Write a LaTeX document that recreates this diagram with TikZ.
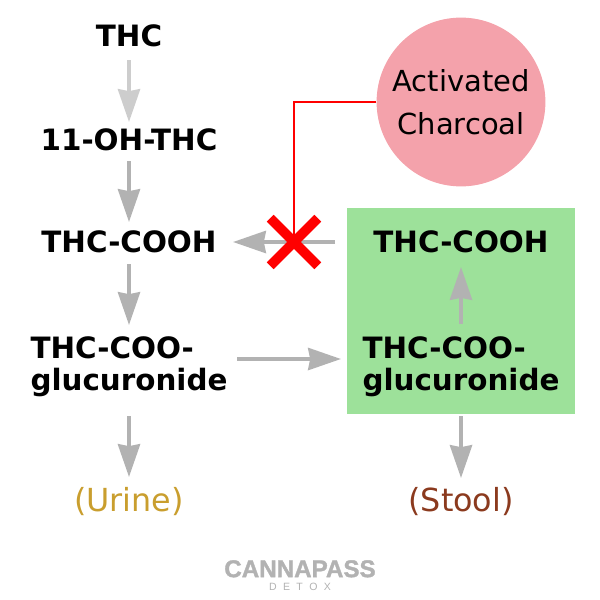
\documentclass[tikz,border=0pt]{standalone}
\usepackage{fontspec}
\setmainfont{DejaVu Sans}
\newfontfamily\logofont[FakeBold=1.5]{Liberation Sans}
\newfontfamily\subfont{Liberation Sans}
\usetikzlibrary{positioning, arrows.meta, shapes.misc}
\definecolor{flowgrey}{HTML}{B2B2B2}
\definecolor{lightgrey}{HTML}{CDCDCD}
\definecolor{boxgreen}{HTML}{9DE19A}
\definecolor{coalpink}{HTML}{F4A2AB}
\definecolor{urinegold}{HTML}{C99E2E}
\definecolor{stoolbrown}{HTML}{8B3A1E}

\begin{document}
\begin{tikzpicture}[on grid,
    metabolite/.style={font=\fontsize{20.9}{23}\selectfont\bfseries, align=left, inner sep=0pt},
    outlet/.style={font=\fontsize{22.6}{26}\selectfont, inner sep=0pt},
    flow/.style={-{Stealth[length=0.82cm, width=0.55cm, inset=0.05cm]}, line width=0.1cm, draw=flowgrey}]
    \useasboundingbox (0,0) rectangle (15,-15);

    % Left column
    \node[metabolite] (thc) at (3.225,-0.9) {THC};
    \node[metabolite] (oh) [below=2.6cm of thc] {11-OH-THC};
    \node[metabolite] (cooh) [below=2.55cm of oh] {THC-COOH};
    \node[metabolite] (gluc) [below=3.125cm of cooh] {THC-COO-\\glucuronide};
    \node[outlet, text=urinegold] (urine) [below=3.375cm of gluc] {(Urine)};

    % Green box and right column
    \node[fill=boxgreen, minimum width=5.7cm, minimum height=5.15cm, inner sep=0pt] (bowel) [below right=1.725cm and 8.3cm of cooh] {};
    \node[metabolite] (cooh2) [right=8.3cm of cooh] {THC-COOH};
    \node[metabolite] (gluc2) [right=8.3cm of gluc] {THC-COO-\\glucuronide};
    \node[outlet, text=stoolbrown] (stool) [right=8.3cm of urine] {(Stool)};

    % Charcoal
    \node[circle, fill=coalpink, minimum size=4.22cm, inner sep=0pt, align=center, font=\fontsize{20.6}{31}\selectfont] (coal) [above=3.5cm of cooh2] {Activated\\Charcoal};

    % Edges
    \draw[flow, draw=lightgrey, shorten <=0.6cm, shorten >=0.45cm] (thc.center) -- (oh.center);
    \draw[flow, shorten <=0.525cm, shorten >=0.5cm] (oh.center) -- (cooh.center);
    \draw[flow, shorten <=0.55cm, shorten >=1.05cm] (cooh.center) -- (gluc.center);
    \draw[flow, shorten <=1.225cm, shorten >=0.625cm] (gluc.center) -- (urine.center);
    \draw[flow, shorten <=1.075cm, shorten >=0.625cm] (gluc2.center) -- (cooh2.center);
    \draw[flow, shorten <=1.225cm, shorten >=0.6cm] (gluc2.center) -- (stool.center);
    \draw[flow, shorten <=2.7cm, shorten >=3cm] ([yshift=0.2cm]gluc.center) -- ([yshift=0.2cm]gluc2.center);
    \draw[flow, shorten <=3.15cm, shorten >=2.6cm] (cooh2.center) -- (cooh.center);

    % Blocked path
    \node[cross out, draw=red, line width=0.24cm, minimum size=0.95cm, inner sep=0pt] (block) [right=4.125cm of cooh] {};
    \draw[red, line width=0.05cm] (coal.west) -| (block.center);

    % Logo
    \node[font=\logofont\fontsize{17.2}{18}\selectfont\bfseries, text=flowgrey, inner sep=0pt] (brand) at (7.5,-14.22) {CANNAPASS};
    \node[font=\subfont\fontsize{7.5}{8}\selectfont, text=flowgrey, inner sep=0pt] (detox) [below=0.44cm of brand] {D\hspace{0.6em}E\hspace{0.6em}T\hspace{0.6em}O\hspace{0.6em}X};
\end{tikzpicture}
\end{document}
